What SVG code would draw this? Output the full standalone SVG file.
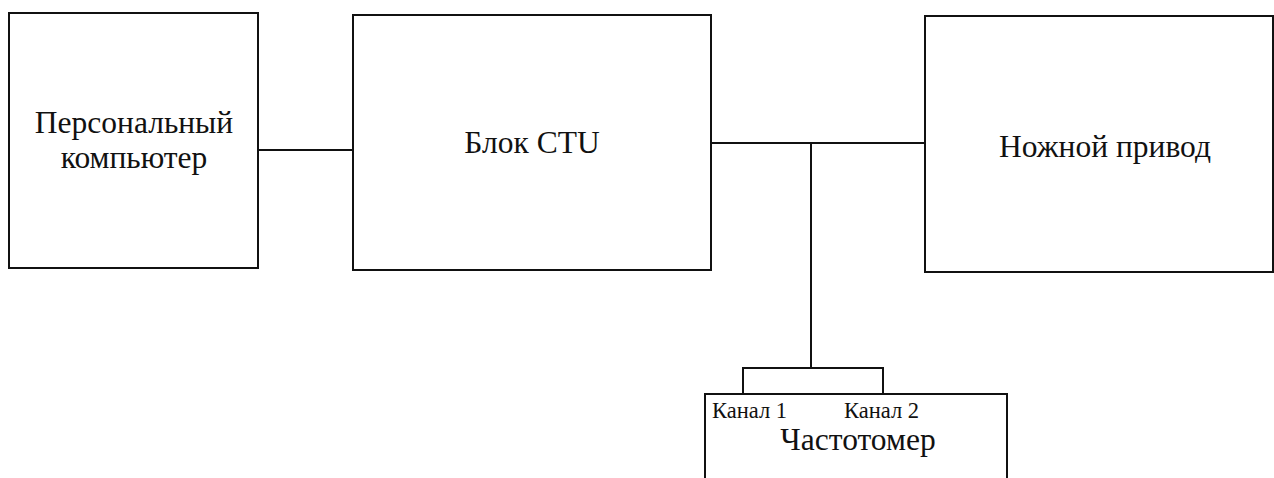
<svg xmlns="http://www.w3.org/2000/svg" width="1274" height="478" viewBox="0 0 1274 478">
<style>
.box{fill:none;stroke:#111;stroke-width:2}
.ln{fill:none;stroke:#111;stroke-width:2}
.t{font-family:"Liberation Serif","Times New Roman",serif;font-size:31.5px;fill:#111;text-anchor:middle}
.s{font-family:"Liberation Serif","Times New Roman",serif;font-size:22.5px;fill:#111}
</style>
<rect width="1274" height="478" fill="#fff"/>
<g id="pc">
<rect class="box" x="9" y="13" width="249" height="255"/>
<text class="t" x="134" y="133">Персональный</text>
<text class="t" x="134" y="168">компьютер</text>
</g>
<g id="ctu">
<rect class="box" x="353" y="15" width="358" height="255"/>
<text class="t" x="532" y="153">Блок CTU</text>
</g>
<g id="drive">
<rect class="box" x="925" y="16" width="348" height="256"/>
<text class="t" x="1105" y="157">Ножной привод</text>
</g>
<g id="freq">
<rect class="box" x="705" y="394" width="302" height="100"/>
<text class="s" x="712" y="418">Канал 1</text>
<text class="s" x="844" y="418">Канал 2</text>
<text class="t" x="858" y="450">Частотомер</text>
</g>
<g id="connectors">
<line class="ln" x1="258" y1="150" x2="353" y2="150"/>
<line class="ln" x1="711" y1="143" x2="925" y2="143"/>
<line class="ln" x1="811" y1="143" x2="811" y2="368"/>
<polyline class="ln" points="743,394 743,368 883,368 883,394"/>
</g>
</svg>
